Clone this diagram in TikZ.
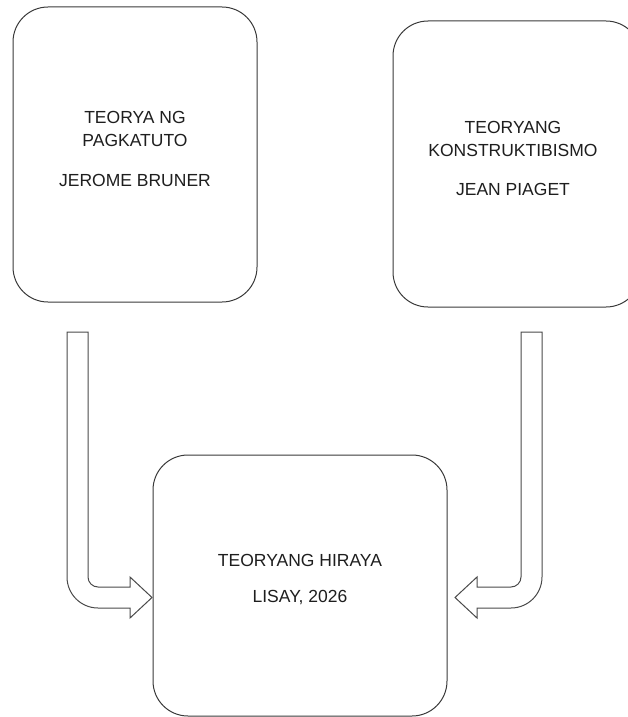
\documentclass[tikz,border=0pt]{standalone}
\usepackage{fontspec}
\setmainfont{Liberation Sans}
\usetikzlibrary{calc}
\definecolor{linec}{HTML}{3A3A3A}
\definecolor{arrowc}{HTML}{4A4A4A}
\definecolor{textc}{HTML}{1E1E1E}
\tikzset{
  roundbox/.style={draw=linec, line width=1pt, rounded corners=35pt, fill=white, inner sep=0pt},
  boxtext/.style={text=textc, align=center, inner sep=0pt, font=\fontsize{17.5}{23}\selectfont},
  blockarrow/.style={draw=arrowc, line width=1pt, fill=white, line join=miter}
}
\begin{document}
\begin{tikzpicture}[x=1pt,y=-1pt]
\useasboundingbox (0,0) rectangle (628,717);
\clip (0,0) rectangle (628,717);
% boxes
\node[roundbox, minimum width=244pt, minimum height=295pt] (b1) at (135,154.5) {};
\node[roundbox, minimum width=248pt, minimum height=286pt] (b2) at (517,164) {};
\node[roundbox, minimum width=294pt, minimum height=261pt] (b3) at (300,585.5) {};
% texts
\node[boxtext] (t1) at ($(b1.center)+(0,-6)$) {TEORYA NG\\PAGKATUTO\\[17pt]JEROME BRUNER};
\node[boxtext] (t2) at ($(b2.center)+(-4,-6)$) {TEORYANG\\KONSTRUKTIBISMO\\[16pt]JEAN PIAGET};
\node[boxtext] (t3) at ($(b3.center)+(0,-5.5)$) {TEORYANG HIRAYA\\[13pt]LISAY, 2026};
% left bent arrow
\draw[blockarrow] (67,332) -- (88,332) -- (88,577)
  .. controls (88,582.5) and (92.5,587) .. (98,587)
  -- (130,587) -- (130,577) -- (152,597.5) -- (130,618) -- (130,608) -- (98,608)
  .. controls (80.9,608) and (67,594.1) .. (67,577) -- cycle;
% right bent arrow
\draw[blockarrow] (542,332) -- (542,577)
  .. controls (542,594.1) and (528.1,608) .. (511,608)
  -- (477,608) -- (477,618) -- (455,597.5) -- (477,577) -- (477,587) -- (511,587)
  .. controls (516.5,587) and (521,582.5) .. (521,577) -- (521,332) -- cycle;
\end{tikzpicture}
\end{document}
